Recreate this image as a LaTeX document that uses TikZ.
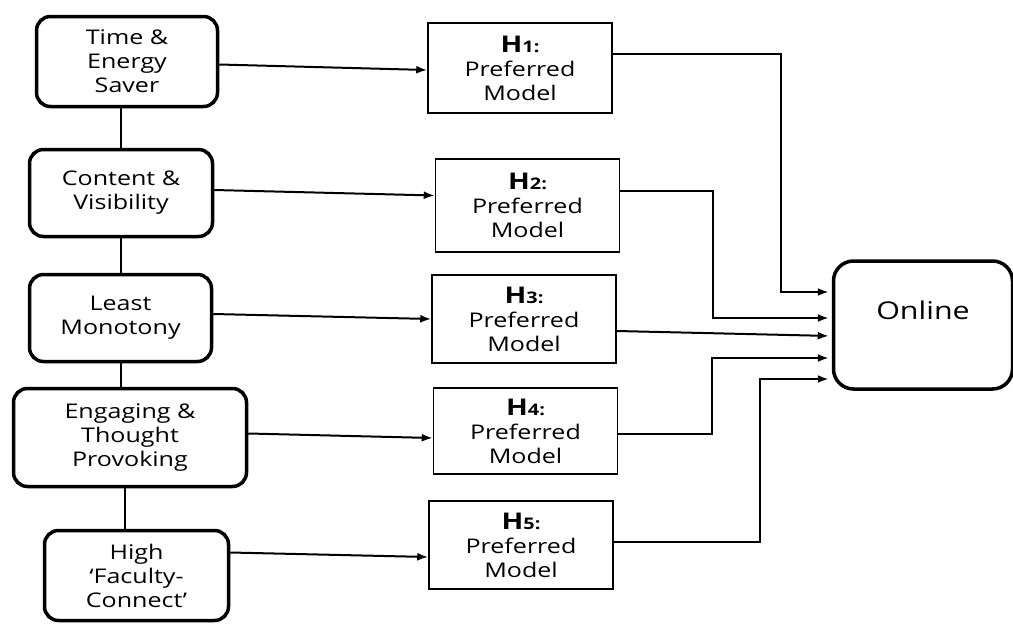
\documentclass[tikz,border=0pt]{standalone}
\usepackage{fontspec}
\setmainfont{Open Sans}[FakeStretch=1.24]
\usepackage{tikz}
\usetikzlibrary{arrows.meta,positioning,calc}

\newcommand{\hyplabel}[1]{{\bfseries\fontsize{23}{24}\selectfont H\fontsize{16}{24}\selectfont #1:}\\Preferred\\Model}

\begin{document}
\begin{tikzpicture}[x=1pt,y=-1pt,>={Latex[length=11pt,width=8pt]},
  factor/.style={draw,rounded corners=14pt,line width=3.5pt,align=center,
    font=\fontsize{20.2}{24}\selectfont},
  hyp/.style={draw,line width=1.5pt,minimum width=184pt,align=center,
    font=\fontsize{20.2}{24}\selectfont},
  arr/.style={->,line width=2pt}]
    \useasboundingbox (0,0) rectangle (1013,624);
    \node[factor,minimum width=181pt,minimum height=90pt](T) at (127,61.5){Time \&\\Energy\\Saver};
    \node[factor,minimum width=183pt,minimum height=87pt](C) at (121,193){Content \&\\Visibility};
    \node[factor,minimum width=182pt,minimum height=87pt](L) at (120.5,318){Least\\Monotony};
    \node[factor,minimum width=233pt,minimum height=98pt](E) at (130,437.5){Engaging \&\\Thought\\Provoking};
    \node[factor,minimum width=184pt,minimum height=90pt](F) at (136.5,575.5){High\\‘Faculty-\\Connect’};
    \node[hyp,minimum height=90pt](H1) at (520,68){\hyplabel{1}};
    \node[hyp,minimum height=93pt](H2) at (527.5,205.5){\hyplabel{2}};
    \node[hyp,minimum height=88pt](H3) at (524,319){\hyplabel{3}};
    \node[hyp,minimum height=86pt](H4) at (525.5,431){\hyplabel{4}};
    \node[hyp,minimum height=88pt](H5) at (521,545){\hyplabel{5}};
    \node[draw,rounded corners=20pt,line width=3.5pt,minimum width=179pt,minimum height=128pt,
      text depth=30pt,font=\fontsize{24.5}{28}\selectfont](O) at (923,325){Online};
    \coordinate (o1) at ([yshift=33pt]O.west);
    \coordinate (o2) at ([yshift=7pt]O.west);
    \coordinate (o3) at ([yshift=-11pt]O.west);
    \coordinate (o4) at ([yshift=-33pt]O.west);
    \coordinate (o5) at ([yshift=-54pt]O.west);

    \draw[line width=2pt] (C.north) -- (C.north |- T.south)
          (L.north) -- (L.north |- C.south)
          (L.south) -- (L.south |- E.north)
          ([xshift=-5pt]E.south) -- ([xshift=-5pt]E.south |- F.north);

    \draw[arr] ([yshift=-3pt]T.east) -- ([yshift=-2pt]H1.west);
    \draw[arr] ([yshift=3pt]C.east) -- ([yshift=10pt]H2.west);
    \draw[arr] ([yshift=4pt]L.east) -- (H3.west);
    \draw[arr] ([yshift=4pt]E.east) -- ([yshift=-7pt]H4.west);
    \draw[arr] ([yshift=23pt]F.east) -- ([yshift=-12pt]H5.west);

    \draw[arr,shorten >=3pt] ([yshift=14pt]H1.east) -| ([xshift=-51pt]o1) -- (o1);
    \draw[arr,shorten >=3pt] ([yshift=15pt]H2.east) -| ([xshift=-119pt]o2) -- (o2);
    \draw[arr,shorten >=3pt] ([yshift=-12pt]H3.east) -- (o3);
    \draw[arr,shorten >=3pt] ([yshift=-3pt]H4.east) -| ([xshift=-120pt]o4) -- (o4);
    \draw[arr,shorten >=3pt] ([yshift=3pt]H5.east) -| ([xshift=-72pt]o5) -- (o5);
\end{tikzpicture}
\end{document}
